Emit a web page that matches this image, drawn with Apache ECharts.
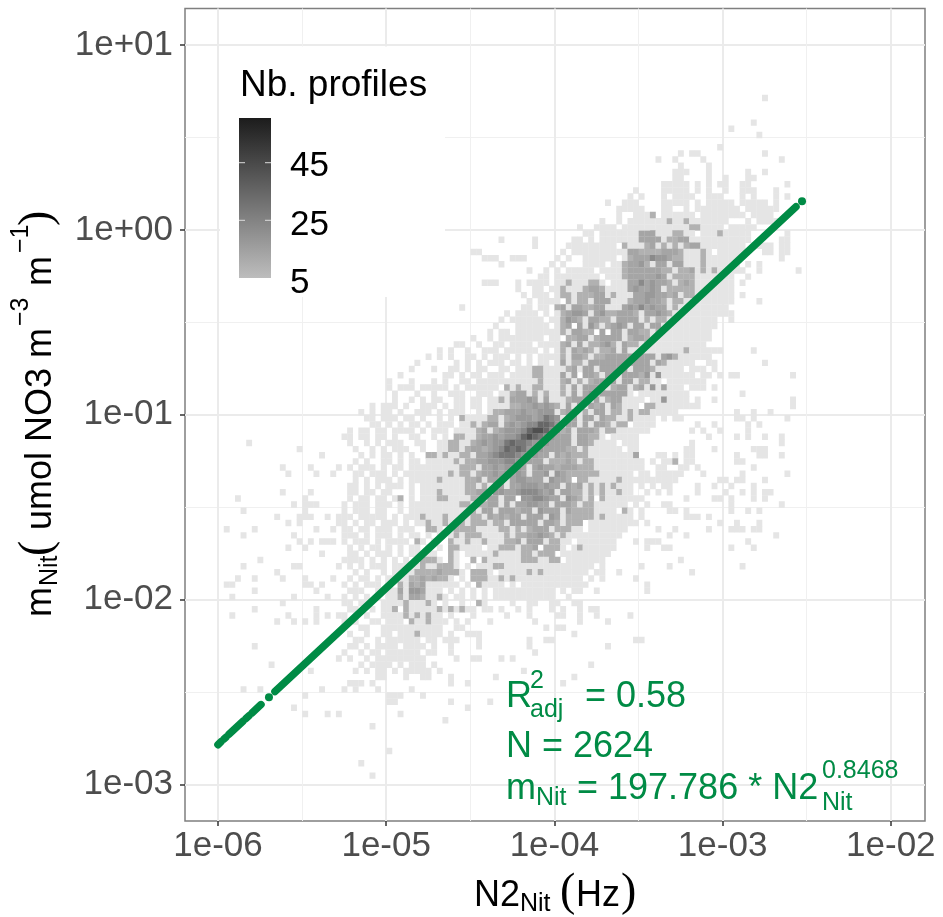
<!DOCTYPE html>
<html><head><meta charset="utf-8">
<style>html,body{margin:0;padding:0;background:#fff}#c{width:943px;height:917px}</style>
<script src="https://cdn.jsdelivr.net/npm/echarts@6/dist/echarts.min.js"></script>
</head><body><div id="c"></div>
<script>
const xTicks=[-6,-5,-4,-3,-2];
const yTicks=[1,0,-1,-2,-3];
const xTickLabels=['1e-06','1e-05','1e-04','1e-03','1e-02'];
const yTickLabels=['1e+01','1e+00','1e-01','1e-02','1e-03'];
const xMinor=[-5.5,-4.5,-3.5,-2.5];
const yMinor=[0.5,-0.5,-1.5,-2.5];
// level digit -> approximate number of profiles in the bin
const levelCounts=[0,2,6,9,13,17,22,28,34,42];
// solid low-count areas: [first row, last row, first col, last col]
const solidBands=[
[20,21,76,92],[22,23,68,92],[24,25,65,90],[26,27,64,90],[28,29,63,90],[30,31,62,90],[32,33,61,90],[34,35,60,89],
[36,37,59,87],[38,39,58,86],[40,41,57,84],[42,43,56,83],[44,45,53,81],[46,47,52,80],[48,49,50,79],[50,51,47,78],
[52,53,45,74],[54,55,41,73],[56,57,38,72],[58,59,36,72],[60,61,35,71],[62,63,35,71],[64,65,35,71],[66,67,34,71],
[68,69,34,71],[70,71,40,70],[72,73,42,69],[74,75,44,66],[76,77,46,64],[78,79,47,62],[80,81,48,58],
[76,79,31,40],[80,87,29,37],[88,91,29,33]
];
// empty bins inside those areas: [row, col]
const holes=[[35,66],[35,67],[38,66],[38,67],[38,68],[38,64],[40,71],[42,64],[44,48],[58,59],[61,61],[64,61],[65,52],[66,53],[68,47],[71,52],[74,59],[73,56],
[19,72],[18,80],[35,67],[33,77],[34,74],[36,75],[29,67],[27,68],[27,62],[31,81],[33,81],[26,63],[40,69],[40,65],[42,62],[20,90],[20,91],[20,92],[21,89],[22,84],[25,87],
[45,65],[45,63],[47,62],[47,70],[48,73],[50,74],[52,67],[51,69],[55,68],[60,63],[61,61],[62,62],[64,61],[65,66],[67,62],[67,70],[66,72],[69,64],[73,61],[57,71],[55,74],[56,74],[57,74],[58,75],[59,75],[60,75],[59,77],
[26,70],[30,68],[32,66],[37,62],[39,60],[41,58],[43,58],[24,70],[28,66],[46,78],[49,75],[53,72],[54,69],[56,70],[63,69],[70,64],[72,62],[75,60],[77,56],[79,52],[71,43],[73,46],[75,45],[77,48],[79,50],[83,31],[85,32],[87,30],[89,31]];
// 2D bins, one string per row from the top; "col:levels" runs
const heatRows=[
"96:1","","","","94:1","90:1","95:1","","88:1",
"81:1 83:11 96:1",
"77:1 80:1 85:1 99:1",
"81:1 86:1",
"80:111 86:1 93:1 96:1",
"80:11 86:1 89:1 93:11",
"78:11111 84:1 86:1 88:11 92:11 100:1",
"73:1 78:11111 84:1 86:1 89:1 92:111 98:1",
"72:1 74:1 78:1.1111 86:111 92:1.1 98:1 100:1",
"68:1 71:111 78:11111.1.11111 92:11111 98:1",
"70:11111 78:111.1.11111111.1111 97:11",
"70:1.11113 78:111111.11111111.1111",
"67:1 70:1.1111111 79:3 80:11 82:3 83:11.11111111.1111",
"63:1 66:1 67:111.1111111111113 82:11 84:3 85:1111.11111",
"64:11.111 70:1111 74:444 77:111 80:33 82:11111 87:1 88:3 89:11111 100:1",
"49:1 55:1 62:11.1.1111.11 74:4444 78:1 79:3 80:344 83:1.1.1111111 99:11",
"55:1 61:1111.1111 71:3 72:11 75:34 77:1 78:3 79:1 80:3 81:11 82:344 85:1.1.1111.11 96:11 99:11",
"44:11 60:1.111.111111 72:44333 77:34 79:443 82:1.1 85:3 86:1111111 96:11 99:11",
"46:111 51:111 59:1 61:1.1.1111.11 72:34446 77:554 80:33 82:11 85:3 86:111111 99:1",
"49:1 58:1 60:1.1.11.1111 71:34453.44 80:44 82:11.1 85:3 86:1111.1.1 95:1",
"54:1 57:1 59:1.1111111.1.1 71:344444433.3 82:34 84:1 85:3 86:1 87:3 88:11111 95:1 102:1",
"56:11 58:.1111.1111111 71:34444454.333 83:3 84:1111111 93:1",
"46:111 52:1 54:1111.11.1 61:3 62:111 65:33 67:11.1 71:1 72:44645 77:443.34 83:3 84:1.1111 92:1",
"52:1 55:11.1 58:11 60:3 61:11 64:3443 68:111 72:4544 76:54.33333 84:111.111",
"53:1 55:111.1.1 60:33.33344.3 72:1 73:44554434.33 84:1111 92:1",
"54:1.1111 60:.3.33.444 69:11 71:1 72:3445443.33 81:3 82:111 95:1",
"42:1 53:11.11 59:34.443344.1 71:45464544.3 82:111.1111",
"50:1 52:1111.1.11 60:34554.45 68:3 69:34443.4454 79:3 80:111111 90:1",
"49:1 51:111111 58:1 60:3543.44 67:33.4444.3.3 78:3 79:11111.1 90:1",
"48:1 52:1 53:11111.111 60:34.4.5 66:3.3454 73:44.44 79:11111111",
"47:1 49:11 52:111111111 60:3.4433.4.44 72:4433 77:3 78:111111",
"44:1 47:1.111 52:11111.11.1 61:33 63:44.3 67:4444.33 73:443 77:1 78:111111",
"41:11 45:1 48:11.1111.11 57:1.1 59:1 60:34.4.33 67:453.433.3 76:11111 85:1",
"38:1 40:1 43:1 46:11 48:1.111111.1.1 60:3.4343.3 68:34.4 72:11 74:1 75:1 77:1 80:1111 82:3 83:1.1111 94:1",
"36:1 38:1 40:1 43:11.1.111.1 54:1.111 60:3.443.3 67:344444 73:444 76:4.45 80:3 81:111111",
"34:1 41:1 43:1.1.111.11.1.11 60:4.33.44 67:44444 72:4444.43 79:1111 86:11 96:1",
"33:1 37:1 40:11.1 45:11.11 50:1.11 55:33 57:1.1 60:.34.44.4444 70:44.444 76:3 77:1.111.111 87:1",
"31:1 39:11 42:1 44:11 47:111.11.1 55:3 56:3 57:1.1.1 60:4.4.443.4 68:44.444 74:3 75:5 76:1 77:5 78:1.1111.11 88:1 90:11 101:1",
"29:1 33:1 37:1 39:1 42:11.1 46:1111 50:11.11 54:1.3 57:1 58:1 60:34.3.34 67:444.44 74:33 76:1 77:11.111111",
"29:1.1 32:11 35:111 38:11 41:1.11 45:1111 50:3 51:1 52:3 53:11 55:33 57:1 59:.3.4.44 65:444.3 70:44.3 73:1 74:4 75:1 76:5 77:1 78:4 79:1.1.11 84:11 87:1",
"30:1 34:1 37:1 40:111 45:111 49:1.3 52:44.3.3 57:111 60:3.4.4 65:5.444 70:44 73:1.11 76:1 77:1 78:11111 92:1",
"30:1 33:1.1 37:11 41:11 44:11.11 49:3 50:1 51:4 52:44 54:5 55:4.4 58:11 60:.344 64:4.4.34 70:4 71:1 72:1 74:1 75:1 76:11 78:5 79:1111 84:1 87:1 101:1",
"26:1 28:111 32:1 35:111 39:1.1 42:1.11 47:11.1 51:33 53:4454 57:54 59:3 60:.4.4 63:4.4 66:3 67:4.4 70:3 71:1 72:111 75:33 77:11111111 101:1",
"24:1 26:1 28:11 31:1 34:111 38:1.11 41:11 45:1 47:11 48:33 50:4 51:44 53:5445 57:55 59:.344.3.5 66:44.3 70:3.1 72:3.3 75:3 76:11.11 91:1 94:1 97:1",
"25:11 28:111.1 33:1 35:1 38:1.1.1 42:3 43:11 46:1 47:33 49:11 50:3 51:4 52:55 54:545 57:7 58:6 59:5 60:.44.44 65:4.4 68:33.1 72:3 73:1.1 76:1.1.11 91:11 94:1 100:1",
"26:11.1.1.11 33:1 36:1.1 39:11 42:11 44:3 45:1 46:3 47:4 48:4 50:4 51:54 53:5 54:6 55:6 56:8 57:8 58:7 59:5 60:.44.4 64:4.443.3 70:33 72:1.1 75:11 84:1 87:1 93:1 95:1",
"22:1.1 25:1.1 28:1.11 32:11 35:1.11 39:1 41:1 43:1.3 45:3 46:4 47:.4 48:3 49:4 50:5 51:55 53:6 54:8 55:9 56:9 57:8 58:6 59:5 60:34.4.4 64:443 68:33 70:1.11 73:111 83:1 85:1 88:1 93:1",
"21:11.1 25:1.1 28:1 30:1 33:11 37:1 39:1.3 41:3 42:3 43:11 45:3 46:4 47:4 48:5 49:4 50:5 51:5 52:6 53:8 54:9 55:8 56:7 57:6 58:5 59:4 60:44.4 63:44 65:33 67:1 68:1.1 71:1111 86:1 91:1 93:1 96:1 99:1",
"4:1 22:1 25:1 27:1.11 31:1 34:11 38:11 40:33 43:.3 44:3 45:4 46:5 47:4 48:5 49:5 50:7 51:8 52:7 53:7 54:6 55:5 56:5 57:5 58:4 59:4 60:44 62:1 63:44 65:3 66:111.1111 83:1 99:1",
"13:1 23:1 26:1 28:1.1 31:11 35:1 38:1.3 41:3 43:3 44:4 45:4 46:3 47:4 48:5 49:6 50:8 51:7 52:8 53:7 54:5 55:5 56:5 57:4 58:4 59:4 60:4 61:3 62:3 64:3 65:1 66:111111.1 82:11 87:1 94:111",
"17:1 24:1 26:1 28:11.1 33:1 36:3 37:3 38:1 39:3 40:1.3 43:3 44:.3 45:4 46:4 47:5 48:6 49:7 50:7 51:7 52:6 53:5 54:.5 56:4 57:4 58:.4 60:3 61:4 62:33 64:3 65:1 66:111.1.1 73:4 74:.1.11 80:1 82:11 91:1 95:11 99:1",
"23:1 25:1 28:11.1.11 34:1.1 38:11.3 43:3 44:3 45:4 46:4 47:5 48:5 49:5 50:6 51:6 52:5 53:5 54:4 55:4 56:4.3 59:33 61:4 62:3.3 65:3 66:111.11.1 73:1 74:111.11 80:3 82:11 91:11",
"10:1 15:1 20:1 22:1 24:111.1.11.11 35:11 38:1.1 42:3 43:33.4 47:45 49:45 51:5 52:5 53:4 54:.4 56:5 57:4 58:4 59:34 61:44 63:3 64:3 65:3 67:111 70:1.1 73:111.11 81:11 84:1 94:1",
"11:1 16:1 19:1 23:11 26:111 30:1.11 34:1 36:1.1 40:3 41:.3 43:3 44:.3 46:4 47:4 48:5 49:4 50:5 51:4 52:5 53:4 54:.4 56:4 57:5 58:.5 60:4 61:3 62:33 64:33 66:3 67:11 69:11.1.1 75:1.111 80:11 85:1 92:1 100:1",
"23:1 25:1.1 28:11.1 33:11.1 38:3 39:1 41:1 43:33 45:4 46:.4 48:4 49:4 50:.4 52:5 53:5 54:4 55:4 56:4 57:.5 59:4 60:4 61:3 62:.3 64:3 65:.1 67:1.1 70:3.1 72:11111111 80:1 88:11 91:11 96:1",
"22:11 25:1 27:1.1 30:11 33:1 36:11 39:1 41:1 43:33.3 47:.4 49:4 51:4 52:4 53:5 54:5 55:5 56:4 57:5 58:4 59:4 60:.4 62:3 63:4.3.3 67:3 68:1 69:3 70:1 71:11 74:1.1 78:11 84:1 87:1 90:1 94:1",
"10:1 15:1 22:11 25:11.1 29:1 33:1 36:1 38:3 39:1 41:1 43:3 44:3 45:4 46:4 47:.5 49:5 50:4 51:4 52:5 53:6 54:6 55:6 56:5 57:4 58:5 59:.4 61:4 62:3 63:3 64:.3 67:3 68:11 70:3 71:11 75:1 77:1 79:1 84:1 89:1 92:1 94:1 96:11",
"2:1 14:1 22:1.11.1 28:1 30:1 31:3 33:1 35:1.1 38:3 39:3 40:1 43:.3 45:3.4 48:4 49:.4 51:4 52:.5 54:5 55:6 56:6 57:5 58:4 59:4 60:.5 62:4 63:3.3 66:1 67:3 68:1.1 72:111 82:1 87:11 90:1 94:1 96:1",
"12:1 14:111 21:1 23:111.11 29:1 31:1 33:1.1 36:1 38:1 39:1.1 42:3 43:3.3 46:3 47:4 48:4 49:.4 51:.4 53:4 54:5 55:5 56:4 57:4 58:.4 60:4 61:4 62:3 63:.3 65:3 66:1 67:11111 73:1.1 78:11 90:1 99:1",
"3:1 14:1 21:1.11 25:1 27:11 31:1 33:11 36:1.1 40:1 42:11 44:3 45:.4 47:4 48:.4 50:4 51:4 52:3 53:4 54:4 55:.5 57:4 58:4 59:4 60:.4 62:3 63:3 64:33 66:1.1111 71:3 72:1.1 79:11 82:1 90:1 93:1 95:1",
"9:1 13:111 18:1 20:111.1 25:1111 30:1.1 33:1 35:3 36:11 39:3 40:1 42:11 44:33 46:.4 48:3 49:4 50:3 51:4 52:4 53:.4 55:4 56:4 57:.5 59:4.3 62:33 64:3 65:3.3 67:3 68:1111 72:1.1 82:111 86:1",
"11:1 13:1 20:11.1.1 26:1.11 30:1 32:1 34:1 36:3 38:.3 40:1 41:3 42:3 43:1 44:3 45:3 46:3 47:.3 49:3.4 52:4 53:4 54:4 55:4 56:.4 58:4 59:3 60:.3 62:3 63:3 64:1111 69:11111 75:1 88:1 91:1 95:1",
"0:1 5:1 16:1 19:1 21:11.1 25:1 27:111.1 32:11 36:33 38:1.1 41:3 42:33 44:3 45:1.1 48:1 49:3 50:3 51:.3 53:.3 55:4 56:4 57:4 58:.3 60:33 62:1 63:11111111 71:1 77:1 80:1 86:1 90:111 94:11",
"3:1 12:1 21:111 25:1.11 29:1.1 33:11 36:1 38:1 41:3 42:1 43:3 44:3 45:3 46:1 47:1 50:3 51:.3 53:3 54:4 55:4 56:5 57:4 58:3.3 61:1 62:11.1111 68:111 79:1 82:1 98:1",
"13:1 15:1 17:111 21:1.11 25:1 27:1.11 31:11 34:3 35:1 37:1 40:3 41:1 43:3 44:11 46:3 47:1 48:1.3 51:3 52:4 53:.4 55:4 56:4 57:.3 59:3 60:.1 62:1111.11 69:1 73:1 75:111 93:1",
"11:1 14:1 22:1.1 26:11 29:1 31:1 33:11 36:1 38:1.3 41:3 42:1 44:1.1 47:1 49:3 50:3 51:3 52:.3 54:3 55:4 56:.3 58:3 59:3 60:1 61:1.1 63:3 64:1111 69:1 75:1 78:11 90:1 94:1",
"17:1 22:11 25:1.1 28:11 31:1.1 34:1 36:11 40:3 41:1 43:1.1 46:1 47:.3 50:1 51:1 53:3 54:3 55:.3 57:3 58:3 60:1 61:111.1.11",
"6:1 21:1111 26:1.1 30:1 32:1 35:3 36:3 37:3 38:1 40:3 41:1 43:.3 45:1 46:3 47:1.1 50:1 51:11 53:3 54:3 55:3 56:1 58:3 59:3 60:1 61:111.111 81:1",
"3:1 12:11 20:1 22:1 24:1.1 27:11 30:1 33:1 35:3 36:1 38:3 39:3 40:3 41:1 43:1.1 46:1 48:3 49:3 50:111 54:.1 56:1.1111 62:1.11.1 74:1 79:1 92:1",
"9:1 23:1 25:1 28:1.1 31:11 34:3 35:3 36:3 37:3 38:4 39:3 40:3 41:3 42:1 44:3 45:3 46:3 47:1.1 50:11 54:3 55:1 56:3 57:11.1.11 64:1 66:11 70:1 83:1",
"2:1 5:1 10:1 14:1 19:1 22:1 24:11 27:1 29:11 33:3 34:3 35:4 36:3 37:4 38:3 39:3 40:1.1 44:3 45:3 46:3 48:1 49:3 50:1 51:3 52:1.1 56:11 59:1 61:1.1 65:1.1 73:1",
"0:11 14:11 17:1 21:1 23:1.1 26:11 29:1 31:3 33:4 34:3 35:4 36:.1 38:1 40:11 43:1 45:3 46:1 48:1.1.1 53:11 57:1 60:1 63:11 75:1",
"5:1 16:1 22:111 27:1.1 31:4 32:.4 33:5 34:5 35:4 36:1 38:1 40:1 42:1 44:1 46:1 48:1 51:1 54:1 58:1 60:1 62:11 66:1 75:1",
"1:1 12:1 18:1 21:1 23:1.1 27:1.11 31:3 32:1 33:4 34:4 35:3 36:1 37:1 38:3 39:1 41:11 44:1 46:1 49:1 53:11 57:1 61:1",
"10:1 21:11 24:11 28:1.1 32:3 33:1 34:1 36:3 37:1 39:1 42:1 45:3 46:1 51:1 54:11 58:11 62:11",
"5:1 16:1 22:11 26:1 28:1 30:3 31:1 32:3 33:11 36:1 38:3 39:1 40:3 41:1 42:3 43:11 46:11 49:1 52:1 54:1 58:1 60:1 63:1 65:11",
"1:1 11:1 16:1 18:1 20:11.1 25:1 28:11 32:3 34:3 36:3 37:11 40:1 44:1 50:1 54:1 59:11 63:1 66:1 72:1",
"9:1 12:1 14:1 16:1 21:1 23:1 26:11 29:111 33:3 34:11 36:3 37:111 41:1 43:1 47:1 55:1 63:1 68:1",
"24:11 28:11.1 31:1111111 38:1 41:11 57:1 59:11",
"22:1 25:1 28:1 30:11.1 34:3 35:1111 40:1 43:111 62:1",
"23:11 27:1.11.1 32:111 36:11 39:111 45:1 54:1 57:11 73:11",
"5:1 22:11 25:1 27:111 32:1.1 35:1 37:1 40:1 45:1 54:1 68:1",
"21:1 24:1 26:11.1 29:1111 33:11 36:11 40:1 55:1",
"20:1 22:1 25:1 27:111 31:1 32:1 34:11 41:1 44:11 49:1 51:1",
"8:1 24:1.1 27:111 31:1 33:111 37:1 65:1",
"15:1 23:1 25:1 27:11 30:1 32:111 35:11 38:1 53:1",
"27:11 32:1 35:11 40:1 48:1 62:1",
"22:111 26:1 40:1 43:1 60:1",
"3:1 6:1 17:1 21:1 23:1 27:1 33:1",
"14:1 29:111 35:1",
"29:11 40:1 47:1",
"12:1 43:1",
"14:1 18:1 20:1 31:1",
"39:1","26:1","","","","29:1","","24:1","","26:1"
];
// fitted points read along the green band, Hz and umol NO3 m-3 m-1
const fitN2=[1.00e-6,1.042e-6,null,1.086e-6,1.116e-6,null,1.162e-6,1.408e-6,null,1.467e-6,1.529e-6,null,1.593e-6,1.802e-6,null,2.182e-6,2.731e-3];
const fitM=[1.64e-3,1.70e-3,null,1.76e-3,1.80e-3,null,1.866e-3,2.194e-3,null,2.272e-3,2.351e-3,null,2.435e-3,2.703e-3,null,3.179e-3,1.335];
const fitLoneN2=[2.01e-6,2.966e-3];
const fitLoneM=[2.966e-3,1.431];

const binWidth=1/30, firstCol=-5.948, firstRow=0.7143;
const GREEN='#008B45', SANS='"Liberation Sans",Arial,sans-serif', SERIF='"Liberation Serif",serif';

function cellColor(n){
  if(n<5) return '#e5e5e5';
  const g=Math.round(189-(189-28)*(n-5)/54);
  return 'rgb('+g+','+g+','+g+')';
}
const grid={};
solidBands.forEach(b=>{for(let r=b[0];r<=b[1];r++)for(let c=b[2];c<=b[3];c++)grid[r+'_'+c]=1;});
holes.forEach(h=>{grid[h[0]+'_'+h[1]]=0;});
heatRows.forEach((row,r)=>{
  if(!row) return;
  row.split(' ').forEach(seg=>{
    const [c,s]=seg.split(':');
    for(let i=0;i<s.length;i++){
      if(s[i]==='.') continue;
      const k=r+'_'+(+c+i), v=+s[i];
      if(v>1||grid[k]===undefined) grid[k]=v;
    }
  });
});
const cells=[];
Object.keys(grid).forEach(k=>{
  if(!grid[k]) return;
  const p=k.split('_');
  cells.push([firstCol+(+p[1])*binWidth, firstRow-(+p[0])*binWidth, levelCounts[grid[k]]]);
});

function t(x,y,text,size,fill,opt){
  opt=opt||{};
  const off=(opt.off===undefined?0.26:opt.off)*size;
  const rot=opt.rot;
  return {type:'text',zlevel:1,z:10,x:rot?x-off:x,y:rot?y:y-off,rotation:rot?Math.PI/2:0,
    style:{text:text,fontSize:size,fontFamily:opt.font||SANS,fill:fill,align:'left',verticalAlign:'middle'}};
}
function box(x,y,w,h,fill,z){return {type:'rect',zlevel:1,z:z,shape:{x:x,y:y,width:w,height:h},style:{fill:fill}};}
const BLK='#000';
const g=[
 box(220,46.5,225,250.5,'#fff',1),
 box(239,118,32,160,{type:'linear',x:0,y:0,x2:0,y2:1,colorStops:[{offset:0,color:'#1c1c1c'},{offset:1,color:'#bdbdbd'}]},2),
 box(239,162.2,6,1,'#ddd',3),box(265,162.2,6,1,'#ddd',3),
 box(239,219.8,6,1,'#ddd',3),box(265,219.8,6,1,'#ddd',3),
 t(240,95.7,'Nb. profiles',37,BLK),
 t(290,175.5,'45',35,BLK),
 t(290,234,'25',35,BLK),
 t(290,292,'5',35,BLK),
 // x title
 t(474,905,'N2',36,BLK),
 t(520,911,'Nit',25,BLK),
 t(560,905,'(',46,BLK,{font:SERIF}),
 t(576,905,'Hz',36,BLK),
 t(621,905,')',46,BLK,{font:SERIF}),
 // y title
 t(50,617,'m',36,BLK,{rot:1}),
 t(57,586,'Nit',25,BLK,{rot:1}),
 t(50,556,'(',46,BLK,{rot:1,font:SERIF}),
 t(50,530,'umol NO3 m',36,BLK,{rot:1}),
 t(28,326,'\u22123',25,BLK,{rot:1}),
 t(50,286,'m',36,BLK,{rot:1}),
 t(28,253,'\u22121',25,BLK,{rot:1}),
 t(50,226,')',46,BLK,{rot:1,font:SERIF}),
 // annotation
 t(506,706.7,'R',36,GREEN),
 t(530,688,'2',25,GREEN),
 t(530,717,'adj',25,GREEN),
 t(585,706.7,'= 0.58',36,GREEN),
 t(506,756,'N = 2624',36,GREEN),
 t(506,798,'m',36,GREEN),
 t(536,805,'Nit',25,GREEN),
 t(577,798,'= 197.786 * N2',36,GREEN),
 t(822,778,'0.8468',25,GREEN),
 t(822,810,'Nit',25,GREEN)
];
const X0=-6.196,X1=-1.7967,Y0=-3.198,Y1=1.1986;
const lab=(vals,labs)=>v=>{const i=vals.indexOf(Math.round(v));return i<0?'':labs[i];};
const chart=echarts.init(document.getElementById('c'),null,{renderer:'canvas'});
chart.setOption({
 animation:false,backgroundColor:'#fff',
 grid:{left:185,top:8.5,width:740,height:812.5,show:true,borderColor:'#7f7f7f',borderWidth:1.5,backgroundColor:'#fff',containLabel:false},
 xAxis:[
  {type:'value',position:'bottom',min:X0,max:X1,axisLine:{show:false,onZero:false},
   axisTick:{show:true,length:5,lineStyle:{color:'#333',width:1.5},customValues:xTicks},
   axisLabel:{fontSize:35,color:'#4d4d4d',fontFamily:SANS,margin:8,customValues:xTicks,formatter:lab(xTicks,xTickLabels)},
   splitLine:{show:true,lineStyle:{color:'#ebebeb',width:2}}},
  {type:'value',position:'bottom',min:X0,max:X1,axisLine:{show:false,onZero:false},
   axisTick:{show:false,customValues:xMinor},axisLabel:{show:false},
   splitLine:{show:true,lineStyle:{color:'#f0f0f0',width:1}}}
 ],
 yAxis:[
  {type:'value',position:'left',min:Y0,max:Y1,axisLine:{show:false,onZero:false},
   axisTick:{show:true,length:5,lineStyle:{color:'#333',width:1.5},customValues:yTicks},
   axisLabel:{fontSize:35,color:'#4d4d4d',fontFamily:SANS,margin:12,customValues:yTicks,formatter:lab(yTicks,yTickLabels)},
   splitLine:{show:true,lineStyle:{color:'#ebebeb',width:2}}},
  {type:'value',position:'left',min:Y0,max:Y1,axisLine:{show:false,onZero:false},
   axisTick:{show:false,customValues:yMinor},axisLabel:{show:false},
   splitLine:{show:true,lineStyle:{color:'#f0f0f0',width:1}}}
 ],
 series:[
  {type:'custom',name:'Nb. profiles',coordinateSystem:'cartesian2d',xAxisIndex:0,yAxisIndex:0,data:cells,
   encode:{x:0,y:1},silent:true,progressive:0,clip:true,z:2,
   renderItem:function(params,api){
     const cx=api.value(0),cy=api.value(1),n=api.value(2);
     const a=api.coord([cx-binWidth/2,cy+binWidth/2]),b=api.coord([cx+binWidth/2,cy-binWidth/2]);
     return {type:'rect',shape:{x:a[0]-0.15,y:a[1]-0.15,width:b[0]-a[0]+0.3,height:b[1]-a[1]+0.3},style:{fill:cellColor(n)}};
   }},
  {type:'line',name:'fit',xAxisIndex:0,yAxisIndex:0,
   data:fitN2.map((x,i)=>x===null?[null,null]:[Math.log10(x),Math.log10(fitM[i])]),
   connectNulls:false,showSymbol:false,symbol:'none',z:5,
   lineStyle:{color:GREEN,width:7.5,cap:'round',join:'round'},silent:true},
  {type:'scatter',name:'fit points',xAxisIndex:0,yAxisIndex:0,
   data:fitLoneN2.map((x,i)=>[Math.log10(x),Math.log10(fitLoneM[i])]),
   symbol:'circle',symbolSize:8,itemStyle:{color:GREEN,opacity:1},z:6,silent:true}
 ],
 graphic:{elements:g}
});
</script></body></html>
